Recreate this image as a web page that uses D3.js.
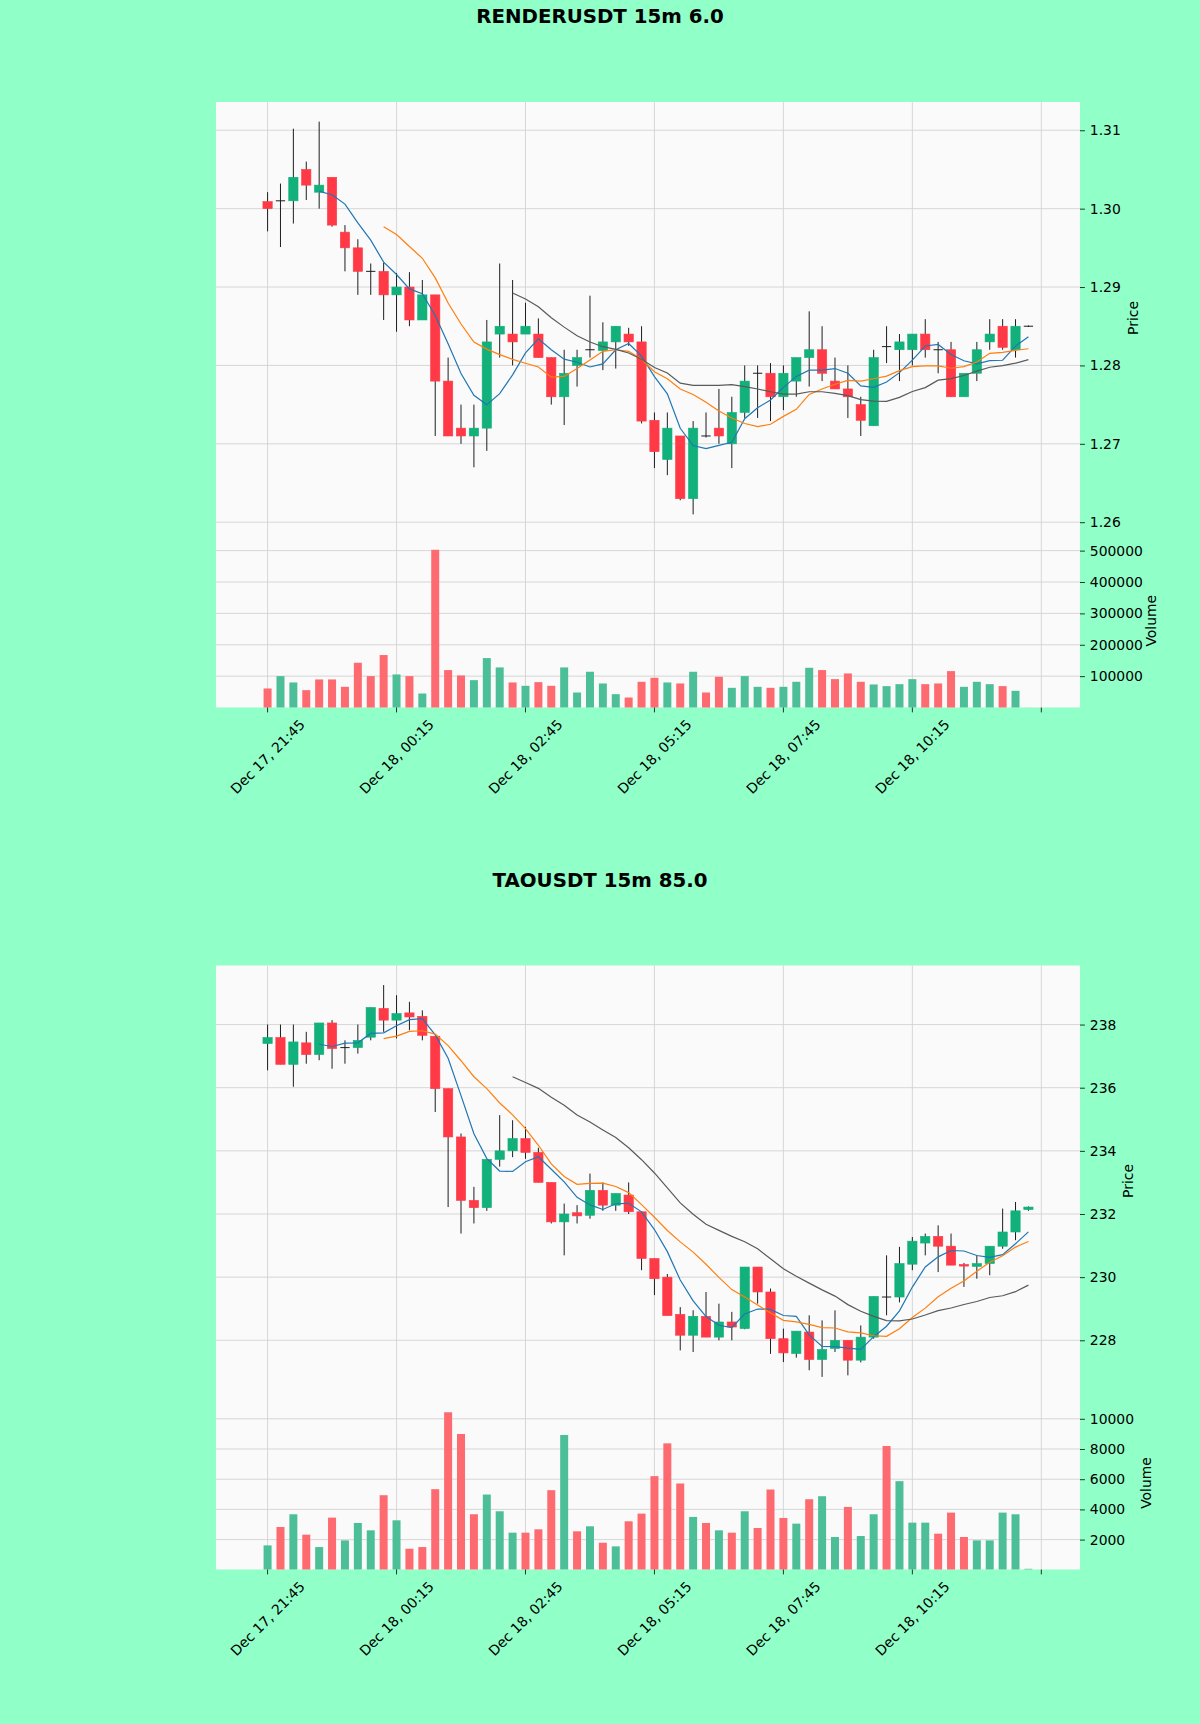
<!DOCTYPE html>
<html>
<head>
<meta charset="utf-8">
<script src="https://cdn.jsdelivr.net/npm/d3@7"></script>
<style>
  body { margin: 0; background: #90ffc8; }
  svg { display: block; font-family: "DejaVu Sans", sans-serif; }
</style>
</head>
<body>
<svg id="chart" width="1200" height="1724"></svg>
<script>
// bar 0 = Dec 17 21:45, one bar every 15 minutes
var tickIndex = [0, 10, 20, 30, 40, 50, 60];
var tickLabels = ["Dec 17, 21:45", "Dec 18, 00:15", "Dec 18, 02:45", "Dec 18, 05:15", "Dec 18, 07:45", "Dec 18, 10:15", ""];
var maPeriods = [5, 10, 20];

// RENDERUSDT
var renderOpen = [1.3009,1.3009,1.3010,1.3050,1.3021,1.3040,1.2970,1.2950,1.2920,1.2920,
  1.2890,1.2900,1.2858,1.2890,1.2780,1.2720,1.2710,1.2720,1.2840,1.2840,
  1.2840,1.2840,1.2810,1.2760,1.2800,1.2819,1.2819,1.2830,1.2840,1.2830,
  1.2730,1.2680,1.2710,1.2630,1.2710,1.2720,1.2700,1.2740,1.2790,1.2790,
  1.2760,1.2780,1.2810,1.2820,1.2780,1.2770,1.2750,1.2723,1.2824,1.2820,
  1.2820,1.2840,1.2820,1.2820,1.2760,1.2790,1.2830,1.2850,1.2820,1.2850];
var renderHigh = [1.3021,1.3032,1.3102,1.3060,1.3111,1.3040,1.2979,1.2961,1.2930,1.2931,
  1.2918,1.2919,1.2909,1.2890,1.2810,1.2750,1.2750,1.2858,1.2930,1.2909,
  1.2880,1.2860,1.2810,1.2820,1.2820,1.2889,1.2855,1.2850,1.2848,1.2850,
  1.2740,1.2740,1.2710,1.2729,1.2740,1.2770,1.2760,1.2800,1.2800,1.2803,
  1.2800,1.2810,1.2869,1.2850,1.2810,1.2800,1.2760,1.2820,1.2850,1.2840,
  1.2840,1.2859,1.2830,1.2830,1.2790,1.2830,1.2859,1.2859,1.2859,1.2851];
var renderLow = [1.2971,1.2951,1.2981,1.3011,1.3000,1.2977,1.2920,1.2890,1.2890,1.2858,
  1.2843,1.2850,1.2858,1.2710,1.2710,1.2700,1.2670,1.2691,1.2810,1.2800,
  1.2840,1.2810,1.2750,1.2724,1.2773,1.2810,1.2794,1.2796,1.2825,1.2726,
  1.2669,1.2660,1.2628,1.2610,1.2708,1.2700,1.2669,1.2733,1.2733,1.2729,
  1.2743,1.2760,1.2773,1.2780,1.2770,1.2733,1.2710,1.2723,1.2803,1.2780,
  1.2800,1.2810,1.2790,1.2760,1.2760,1.2780,1.2820,1.2820,1.2810,1.2849];
var renderClose = [1.3000,1.3010,1.3040,1.3030,1.3030,1.2979,1.2950,1.2920,1.2920,1.2890,
  1.2900,1.2858,1.2890,1.2780,1.2710,1.2710,1.2720,1.2830,1.2850,1.2830,
  1.2850,1.2810,1.2760,1.2790,1.2810,1.2820,1.2830,1.2850,1.2830,1.2729,
  1.2690,1.2720,1.2630,1.2720,1.2710,1.2710,1.2740,1.2780,1.2790,1.2760,
  1.2790,1.2810,1.2820,1.2790,1.2770,1.2760,1.2730,1.2810,1.2824,1.2830,
  1.2840,1.2820,1.2820,1.2760,1.2790,1.2820,1.2840,1.2823,1.2850,1.2850];
var renderVolume = [60700,100100,79900,55400,89500,89500,66000,142700,100100,167200,
  105400,100100,44700,502700,119300,102200,87300,157600,127800,79900,
  69200,80900,69200,127800,47900,114000,76700,42600,32000,82000,
  94800,79900,76700,114000,47900,98000,62800,100100,66000,62800,
  66000,82000,126700,119300,90500,108600,82000,73500,68200,74500,
  90500,74500,76700,116100,66000,82000,74500,68200,53300,300];
var renderPriceTicks = [1.26, 1.27, 1.28, 1.29, 1.30, 1.31];
var renderVolumeTicks = [100000, 200000, 300000, 400000, 500000];

// TAOUSDT
var taoOpen = [237.40,237.59,236.74,237.42,237.05,238.05,237.27,237.27,237.60,238.51,
  238.14,238.37,238.26,237.63,235.97,234.44,232.43,232.20,233.73,234.00,
  234.39,233.95,233.00,231.75,232.04,231.96,232.75,232.28,232.60,232.07,
  230.59,230.00,228.82,228.16,228.76,228.10,228.58,228.37,230.32,229.53,
  228.05,227.58,228.26,227.39,227.74,228.00,227.37,228.10,229.37,229.37,
  230.41,231.08,231.29,230.98,230.40,230.34,230.43,230.98,231.43,232.14];
var taoHigh = [238.00,238.00,238.00,237.77,238.05,238.14,237.50,238.00,238.54,239.25,
  238.93,238.72,238.45,237.63,235.97,234.55,232.86,233.73,235.13,234.97,
  234.76,234.10,233.00,232.33,232.28,233.28,233.00,232.65,233.00,232.07,
  230.59,230.10,229.05,228.95,229.53,229.16,228.90,230.32,230.32,229.64,
  228.37,228.29,228.79,228.63,228.95,228.00,228.47,229.39,230.69,230.96,
  231.27,231.38,231.64,231.38,230.45,230.69,230.98,232.17,232.38,232.24];
var taoLow = [236.55,236.74,236.03,236.76,236.87,236.60,236.76,237.08,237.50,237.77,
  237.56,237.82,237.50,235.23,232.22,231.38,231.70,232.10,233.50,233.80,
  233.75,233.00,231.70,230.69,231.70,231.85,232.10,232.10,232.00,230.22,
  229.43,228.78,227.68,227.63,228.10,228.00,228.00,228.35,229.16,227.57,
  227.31,227.45,227.05,226.84,227.63,226.89,227.30,228.05,228.79,229.20,
  230.22,230.69,230.16,230.38,229.69,229.95,230.06,230.90,231.17,232.10];
var taoClose = [237.59,236.74,237.45,237.05,238.05,237.24,237.27,237.50,238.54,238.14,
  238.35,238.24,237.66,235.97,234.44,232.43,232.20,233.73,234.00,234.39,
  233.95,233.00,231.75,232.00,231.94,232.75,232.28,232.65,232.07,230.59,
  229.95,228.78,228.16,228.76,228.10,228.58,228.42,230.32,229.53,228.05,
  227.60,228.29,227.39,227.71,228.00,227.37,228.10,229.39,229.37,230.43,
  231.14,231.29,230.98,230.38,230.35,230.43,230.98,231.43,232.10,232.22];
var taoVolume = [1617,2835,3677,2326,1506,3455,1949,3101,2614,4939,
  3278,1395,1506,5338,10433,8993,3677,4984,3876,2459,
  2459,2680,5272,8927,2547,2880,1794,1551,3212,3721,
  6202,8373,5715,3500,3101,2614,2459,3876,2769,5316,
  3433,3057,4674,4873,2171,4164,2237,3677,8196,5870,
  3123,3123,2392,3788,2171,1949,1949,3788,3677,66];
var taoPriceTicks = [228, 230, 232, 234, 236, 238];
var taoVolumeTicks = [2000, 4000, 6000, 8000, 10000];

var colors = {
  up: "#12b07a", down: "#ff3a46",
  volUp: "#4dbf98", volDown: "#fd6a70",
  wick: "#1e1e1e",
  ma: ["#1f77b4", "#ff7f0e", "#575b5b"],
  face: "#fafafa", grid: "#d3d3d3"
};

var svg = d3.select("#chart");
svg.append("rect").attr("width", 1200).attr("height", 1724).attr("fill", "#90ffc8");

function movingAverage(values, n) {
  return values.map((v, i) => i < n - 1 ? null : d3.mean(values.slice(i - n + 1, i + 1)));
}

function drawChart(cfg) {
  var left = 216, right = 1080;
  var g = svg.append("g");
  var n = cfg.close.length;

  var x = d3.scaleLinear().domain([-4, 63]).range([left, right]);
  var step = x(1) - x(0);

  var lo = d3.min(cfg.low), hi = d3.max(cfg.high), pad = (hi - lo) * 0.05;
  var y = d3.scaleLinear().domain([lo - pad, hi + pad]).range([cfg.priceBottom, cfg.top]);
  var vy = d3.scaleLinear()
    .domain([0.3 * d3.min(cfg.volume), 1.1 * d3.max(cfg.volume)])
    .range([cfg.volBottom, cfg.priceBottom]);

  // title
  svg.append("text")
    .attr("x", 600).attr("y", cfg.titleY)
    .attr("text-anchor", "middle").attr("dominant-baseline", "central")
    .attr("font-size", "19.8px").attr("font-weight", "bold")
    .text(cfg.title);

  // axes face
  g.append("rect")
    .attr("x", left).attr("y", cfg.top)
    .attr("width", right - left).attr("height", cfg.volBottom - cfg.top)
    .attr("fill", colors.face);

  // grid
  var grid = g.append("g").attr("stroke", colors.grid).attr("stroke-width", 0.9);
  grid.selectAll(".gx").data(tickIndex).join("line")
    .attr("x1", d => x(d)).attr("x2", d => x(d))
    .attr("y1", cfg.top).attr("y2", cfg.volBottom);
  grid.selectAll(".gp").data(cfg.priceTicks).join("line")
    .attr("x1", left).attr("x2", right)
    .attr("y1", d => y(d)).attr("y2", d => y(d));
  grid.selectAll(".gv").data(cfg.volumeTicks).join("line")
    .attr("x1", left).attr("x2", right)
    .attr("y1", d => vy(d)).attr("y2", d => vy(d));

  var idx = d3.range(n);

  // wicks
  g.append("g").selectAll("line").data(idx).join("line")
    .attr("x1", i => x(i)).attr("x2", i => x(i))
    .attr("y1", i => y(cfg.high[i])).attr("y2", i => y(cfg.low[i]))
    .attr("stroke", colors.wick).attr("stroke-width", 1);

  // bodies
  var bw = step * 0.72;
  var bodies = g.append("g");
  idx.forEach(i => {
    var o = cfg.open[i], c = cfg.close[i];
    var top = y(Math.max(o, c)), bot = y(Math.min(o, c));
    if (bot - top < 1) {
      bodies.append("line")
        .attr("x1", x(i) - bw / 2).attr("x2", x(i) + bw / 2)
        .attr("y1", y(c)).attr("y2", y(c))
        .attr("stroke", colors.wick).attr("stroke-width", 1);
    } else {
      var col = o < c ? colors.up : colors.down;
      bodies.append("rect")
        .attr("x", x(i) - bw / 2).attr("width", bw)
        .attr("y", top).attr("height", bot - top)
        .attr("fill", col).attr("stroke", col).attr("stroke-width", 0.6);
    }
  });

  // moving averages
  var line = d3.line().defined(d => d[1] != null).x(d => x(d[0])).y(d => y(d[1]));
  maPeriods.forEach((p, k) => {
    var ma = movingAverage(cfg.close, p);
    g.append("path")
      .datum(ma.map((v, i) => [i, v]))
      .attr("fill", "none").attr("stroke", colors.ma[k]).attr("stroke-width", 1.2)
      .attr("d", line);
  });

  // volume (colour follows change in close)
  var vw = step * 0.62;
  g.append("g").selectAll("rect").data(idx).join("rect")
    .attr("x", i => x(i) - vw / 2).attr("width", vw)
    .attr("y", i => vy(cfg.volume[i]))
    .attr("height", i => Math.max(0, cfg.volBottom - vy(cfg.volume[i])))
    .attr("fill", i => {
      var up = i === 0 ? cfg.open[0] < cfg.close[0] : cfg.close[i] > cfg.close[i - 1];
      return up ? colors.volUp : colors.volDown;
    });

  // right axes
  var priceAxis = d3.axisRight(y).tickValues(cfg.priceTicks).tickFormat(cfg.priceFormat)
    .tickSize(4.9).tickPadding(4.9);
  var volAxis = d3.axisRight(vy).tickValues(cfg.volumeTicks).tickFormat(d3.format("d"))
    .tickSize(4.9).tickPadding(4.9);
  [priceAxis, volAxis].forEach(a => {
    var ax = g.append("g").attr("transform", `translate(${right},0)`).call(a);
    ax.select(".domain").remove();
    ax.selectAll("text").attr("font-size", "13.9px").attr("font-family", "DejaVu Sans").attr("fill", "#000");
    ax.selectAll("line").attr("stroke", "#000").attr("stroke-width", 0.8);
  });

  g.append("text")
    .attr("transform", `translate(${cfg.priceLabelX},${(cfg.top + cfg.priceBottom) / 2}) rotate(-90)`)
    .attr("text-anchor", "middle").attr("dominant-baseline", "central")
    .attr("font-size", "13.9px").text("Price");
  g.append("text")
    .attr("transform", `translate(${cfg.volLabelX},${(cfg.priceBottom + cfg.volBottom) / 2}) rotate(-90)`)
    .attr("text-anchor", "middle").attr("dominant-baseline", "central")
    .attr("font-size", "13.9px").text("Volume");

  // bottom time axis
  g.append("g").selectAll("line").data(tickIndex).join("line")
    .attr("x1", d => x(d)).attr("x2", d => x(d))
    .attr("y1", cfg.volBottom).attr("y2", cfg.volBottom + 4.9)
    .attr("stroke", "#000").attr("stroke-width", 0.8);
  g.append("g").selectAll("text").data(tickIndex).join("text")
    .attr("transform", d => `translate(${x(d)},${cfg.volBottom + 49}) rotate(-45)`)
    .attr("text-anchor", "middle").attr("dominant-baseline", "central")
    .attr("font-size", "13.9px")
    .text((d, k) => tickLabels[k]);
}

drawChart({
  title: "RENDERUSDT 15m 6.0", titleY: 16,
  top: 102, priceBottom: 534, volBottom: 707.5,
  open: renderOpen, high: renderHigh, low: renderLow, close: renderClose, volume: renderVolume,
  priceTicks: renderPriceTicks, volumeTicks: renderVolumeTicks,
  priceFormat: d3.format(".2f"),
  priceLabelX: 1133, volLabelX: 1151
});

drawChart({
  title: "TAOUSDT 15m 85.0", titleY: 880,
  top: 965.5, priceBottom: 1396.5, volBottom: 1569.5,
  open: taoOpen, high: taoHigh, low: taoLow, close: taoClose, volume: taoVolume,
  priceTicks: taoPriceTicks, volumeTicks: taoVolumeTicks,
  priceFormat: d3.format("d"),
  priceLabelX: 1128, volLabelX: 1146
});
</script>
</body>
</html>
